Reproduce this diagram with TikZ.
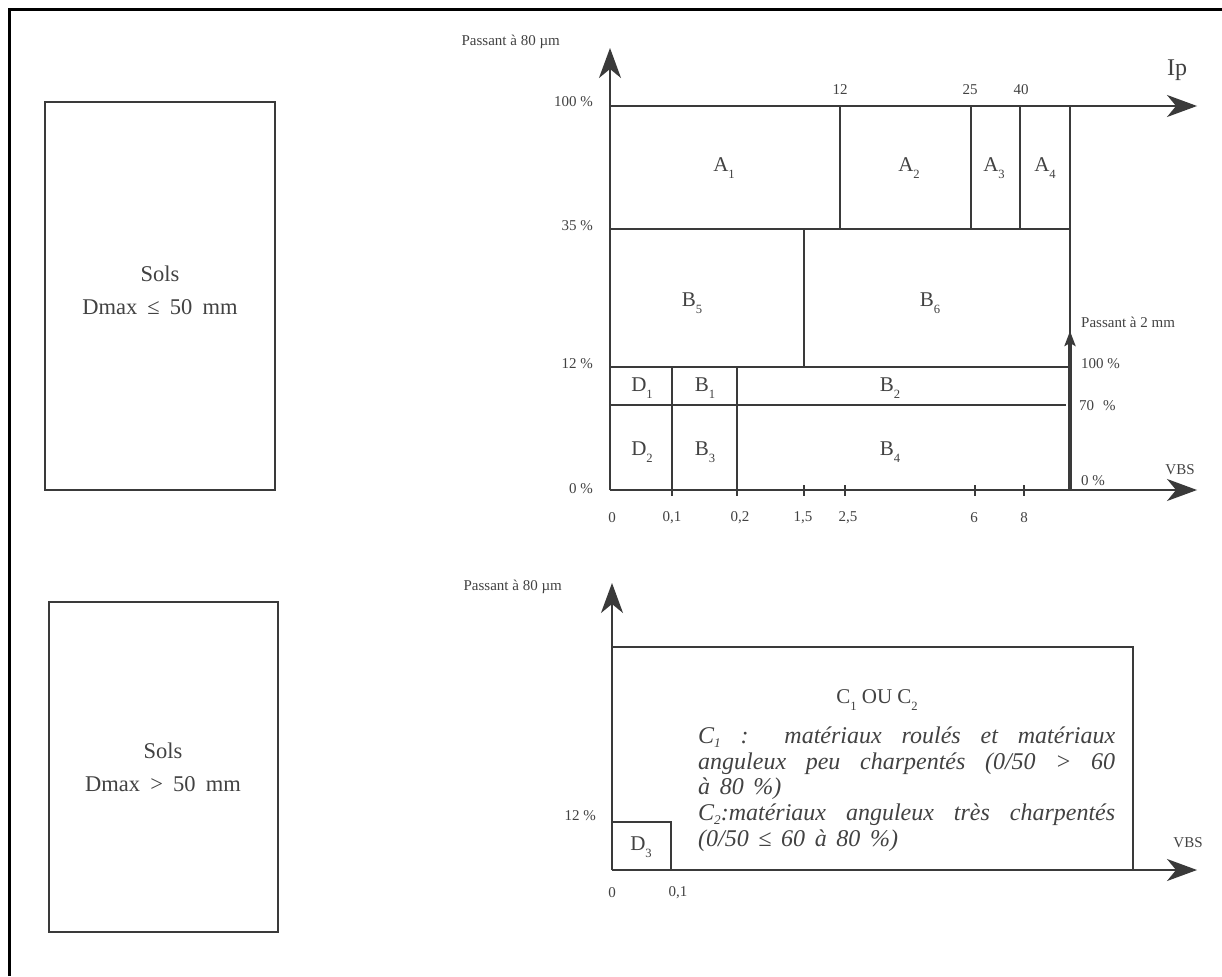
\documentclass[tikz,border=0pt]{standalone}
\usepackage{fontspec}
\setmainfont{Liberation Serif}
\usetikzlibrary{arrows.meta}
\definecolor{ink}{HTML}{3A3A3A}
\definecolor{txt}{HTML}{424242}
\newcommand\subn[1]{\raisebox{-0.35em}{\scalebox{0.6}{#1}}}
\newcommand\subi[1]{\raisebox{-0.18em}{\scalebox{0.55}{#1}}}
\begin{document}
\begin{tikzpicture}[x=1pt,y=-1pt,
  ln/.style={draw=ink, line width=1.6pt},
  ax/.style={draw=ink, line width=1.8pt, -{Stealth[length=30pt,width=22pt,inset=9pt]}},
  lbl/.style={text=txt, font=\fontsize{15}{17}\selectfont, inner sep=0pt},
  reg/.style={text=txt, font=\fontsize{21}{24}\selectfont, inner sep=0pt},
  sol/.style={text=txt, font=\fontsize{22.5}{33}\selectfont, align=center, inner sep=0pt},
  itl/.style={text=txt, font=\fontsize{24}{28}\selectfont\itshape, anchor=base west, inner sep=0pt},
]
\useasboundingbox[fill=white] (0,0) rectangle (1222,976);

% frame
\draw[line width=3pt, black] (9,976) -- (9,10) -- (1222,10);

% left boxes
\draw[ln] (45,102) rectangle (275,490);
\node[sol] (s1) at (160,290) {Sols\\Dmax\hspace{0.45em}≤\hspace{0.45em}50\hspace{0.45em}mm};
\draw[ln] (49,602) rectangle (278,932);
\node[sol] (s2) at (163,767) {Sols\\Dmax\hspace{0.45em}>\hspace{0.45em}50\hspace{0.45em}mm};

% ---------- top chart ----------
\coordinate (o1) at (610,490);
\draw[ax] (o1) -- (610,48);
\draw[ax] (610,106) -- (1197,106);
\draw[ax] (o1) -- (1197,490);
% verticals in A row
\draw[ln] (840,106) -- (840,229);
\draw[ln] (971,106) -- (971,229);
\draw[ln] (1020,106) -- (1020,229);
\draw[ln] (1070,106) -- (1070,350);
% horizontals
\draw[ln] (610,229) -- (1070,229);
\draw[ln] (804,229) -- (804,367);
\draw[ln] (610,367) -- (1070,367);
\draw[ln] (610,405) -- (1066,405);
\draw[ln] (672,367) -- (672,496);
\draw[ln] (737,367) -- (737,496);
% ticks
\foreach \tx in {804,845,975,1024} \draw[ln] (\tx,485) -- (\tx,496);
% passant 2 mm arrow
\draw[draw=ink, line width=3.5pt, -{Stealth[length=15pt,width=11pt,inset=3pt]}] (1070,490) -- (1070,331);

% labels top chart
\node[lbl, anchor=east] (p80a) at (560,42) {Passant à 80 µm};
\node[text=txt, font=\fontsize{24}{26}\selectfont, inner sep=0pt] (ip) at (1177,70) {Ip};
\node[lbl] (t12) at (840,90) {12};
\node[lbl] (t25) at (970,90) {25};
\node[lbl] (t40) at (1021,90) {40};
\node[lbl, anchor=east] (y100) at (593,102) {100 \%};
\node[lbl, anchor=east] (y35) at (593,226) {35 \%};
\node[lbl, anchor=east] (y12) at (593,364) {12 \%};
\node[lbl, anchor=east] (y0) at (593,489) {0 \%};
\node[lbl, anchor=west] (p2) at (1081,322) {Passant à 2 mm};
\node[lbl, anchor=west] (r100) at (1081,364) {100 \%};
\node[lbl, anchor=west] (r70) at (1079,406) {70\hspace{0.6em}\%};
\node[lbl, anchor=south west] (r0) at (1081,486) {0 \%};
\node[lbl] (vbs1) at (1180,470) {VBS};
\node[lbl] (x0) at (612,518) {0};
\node[lbl] (x01) at (672,518) {0,1};
\node[lbl] (x02) at (740,518) {0,2};
\node[lbl] (x15) at (803,518) {1,5};
\node[lbl] (x25) at (848,518) {2,5};
\node[lbl] (x6) at (974,518) {6};
\node[lbl] (x8) at (1024,518) {8};

% region labels
\node[reg] (a1) at (724,168) {A\subn{1}};
\node[reg] (a2) at (909,168) {A\subn{2}};
\node[reg] (a3) at (994,168) {A\subn{3}};
\node[reg] (a4) at (1045,168) {A\subn{4}};
\node[reg] (b5) at (692,303) {B\subn{5}};
\node[reg] (b6) at (930,303) {B\subn{6}};
\node[reg] (d1) at (642,388) {D\subn{1}};
\node[reg] (b1) at (705,388) {B\subn{1}};
\node[reg] (b2) at (890,388) {B\subn{2}};
\node[reg] (d2) at (642,452) {D\subn{2}};
\node[reg] (b3) at (705,452) {B\subn{3}};
\node[reg] (b4) at (890,452) {B\subn{4}};

% ---------- bottom chart ----------
\coordinate (o2) at (612,870);
\draw[ax] (o2) -- (612,583);
\draw[ax] (o2) -- (1197,870);
\draw[ln] (612,647) -- (1133,647) -- (1133,870);
\draw[ln] (612,822) -- (671,822) -- (671,870);

\node[lbl, anchor=east] (p80b) at (562,587) {Passant à 80 µm};
\node[lbl, anchor=east] (y12b) at (596,816) {12 \%};
\node[reg] (d3) at (641,847) {D\subn{3}};
\node[lbl] (x0b) at (612,893) {0};
\node[lbl] (x01b) at (678,893) {0,1};
\node[lbl] (vbs2) at (1188,843) {VBS};
\node[reg] (c12) at (877,700) {C\subn{1} OU C\subn{2}};

\node[itl] (l1) at (698,743) {\makebox[417pt][s]{C\subi{1} : matériaux roulés et matériaux}};
\node[itl] (l2) at (698,769) {\makebox[417pt][s]{anguleux peu charpentés (0/50 > 60}};
\node[itl] (l3) at (698,794) {à\hspace{0.4em}80\hspace{0.4em}\%)};
\node[itl] (l4) at (698,820) {\makebox[417pt][s]{C\subi{2}:matériaux anguleux très charpentés}};
\node[itl] (l5) at (698,846) {(0/50\hspace{0.4em}≤\hspace{0.4em}60\hspace{0.4em}à\hspace{0.4em}80\hspace{0.4em}\%)};
\end{tikzpicture}
\end{document}
